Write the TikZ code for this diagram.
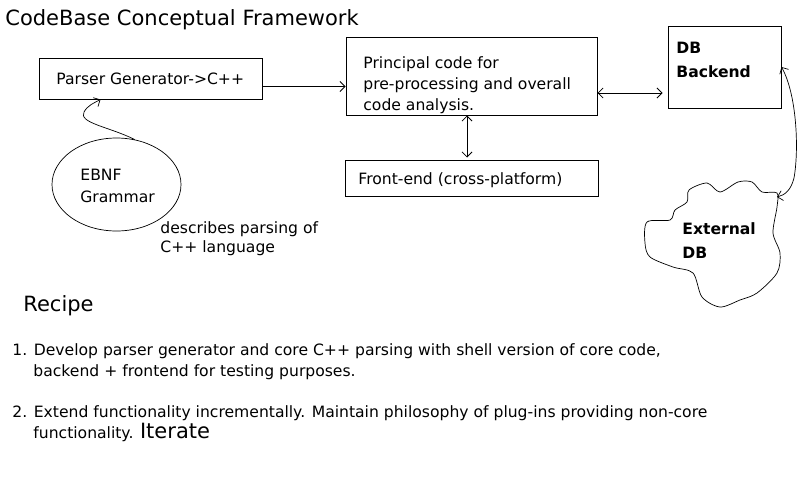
\documentclass[tikz,border=0pt]{standalone}
\usepackage{fontspec}
\setmainfont{DejaVu Sans}
\usetikzlibrary{positioning,shapes.geometric,arrows.meta}
\tikzset{
  basic/.style    = {inner sep=0pt, font=\fontsize{15.6}{21}\selectfont},
  box/.style      = {draw, rectangle, inner sep=0pt, line width=1pt},
  txt/.style      = {basic, align=left, anchor=base west},
  bold txt/.style = {txt, font=\fontsize{15.6}{24}\selectfont\bfseries},
  big txt/.style  = {txt, font=\fontsize{21}{25}\selectfont}
}

\begin{document}
\begin{tikzpicture}[x=1pt, y=-1pt, line width=0.8pt,
  >={Straight Barb[length=5pt,width=10pt]}]
\useasboundingbox (0,0) rectangle (800,480);

% title
\node[big txt] (title) at (5,25) {CodeBase Conceptual Framework};

% the blocks
\node[box, minimum width=223pt, minimum height=41pt] (pg) at (150.5,78.5) {};
\node[box, minimum width=251pt, minimum height=78pt] (pc) at (471.5,76) {};
\node[box, minimum width=253pt, minimum height=36pt] (fe) at (471.5,178) {};
\node[box, minimum width=113pt, minimum height=82pt] (db) at (724.5,67) {};
\node[draw, ellipse, line width=0.7pt, minimum width=129pt, minimum height=93pt] (eb) at (116.5,184.5) {};

% texts of the blocks (base = last line)
\node[txt] (pg-t) at (56,84) {Parser Generator->C++};
\node[txt] (pc-t) at (363,110) {Principal code for\\pre-processing and overall\\code analysis.};
\node[txt] (fe-t) at (358,184) {Front-end (cross-platform)};
\node[bold txt] (db-t) at (676,77) {DB\\Backend};
\node[txt, font=\fontsize{15.6}{22}\selectfont] (eb-t) at (80,202) {EBNF\\Grammar};
\node[txt, font=\fontsize{15.6}{19}\selectfont] (note) at (160,252) {describes parsing of\\C++ language};

% external db, drawn by hand
\draw[line width=0.7pt] plot[smooth cycle, tension=0.5] coordinates {
  (689,190) (707,183) (720,192) (738,182) (752,182) (762,192) (777,193)
  (777,207) (773,233) (780,253) (777,273) (757,293) (740,300) (720,307)
  (702,297) (693,273) (673,267) (650,257) (645,243) (647,222) (670,220)
  (675,210) (687,202)};
\coordinate (cl) at (777,197);
\node[bold txt] (ext-t) at (682,258) {External\\DB};

% connectors
\draw[->] ([yshift=-8pt]pg.east) -- ([yshift=-8pt]pg.east -| pc.west);
\draw[<->, shorten >=5pt] ([yshift=-17pt]pc.east) -- ([yshift=-17pt]pc.east -| db.west);
\draw[<->, shorten >=2pt] ([xshift=-4.5pt]pc.south) -- ([xshift=-4.5pt]fe.north);
\draw[->, line width=0.7pt] (eb.68) .. controls (110,127) and (78,123) .. (84,112)
  .. controls (88,105) and (94,103) .. ([xshift=-50pt]pg.south);
\draw[<->, line width=0.7pt] (db.east) .. controls (797,95) and (799,150) .. (794,178)
  .. controls (791,190) and (785,195) .. (cl);

% recipe
\node[big txt] (recipe) at (23,311) {Recipe};
\node[txt] (step1) at (12,376) {1. Develop parser generator and core C++ parsing with shell version of core code,\\\hspace*{21pt}backend + frontend for testing purposes.};
\node[txt] (step2) at (12,438) {2. Extend functionality incrementally. Maintain philosophy of plug-ins providing non-core\\\hspace*{21pt}functionality. {\fontsize{21}{25}\selectfont Iterate}};

\end{tikzpicture}
\end{document}
